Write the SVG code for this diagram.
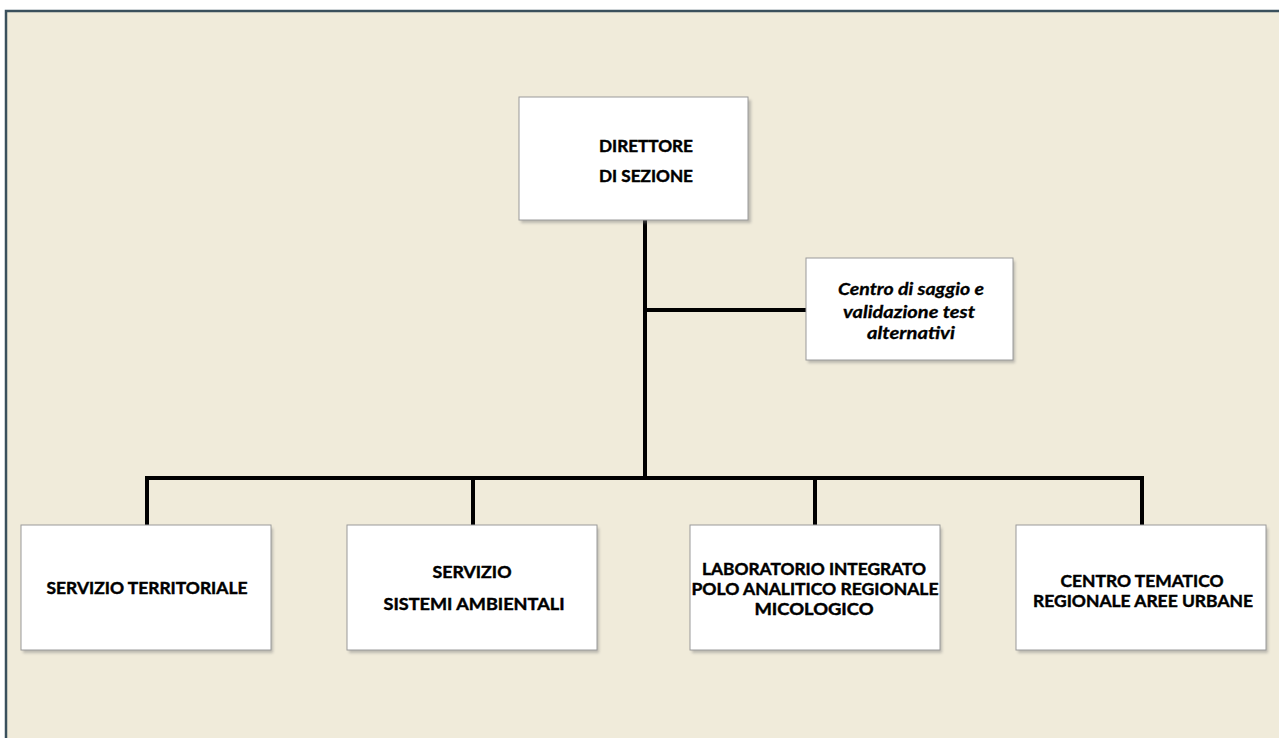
<svg xmlns="http://www.w3.org/2000/svg" width="1279" height="738" viewBox="0 0 1279 738">
<defs>
<style>
.box{fill:#ffffff;stroke:#9a9a9a;stroke-width:1}
.shadow{fill:#7a7a7a;opacity:0.45}
.conn{fill:none;stroke:#000000;stroke-width:4;stroke-linejoin:miter}
.t{font-family:Lato,"Open Sans","DejaVu Sans",sans-serif;font-weight:bold;font-size:17px;fill:#000000;stroke:#000000;stroke-width:0.45;text-anchor:middle}
.it{font-style:italic;stroke-width:0.3}
</style>
<filter id="blur" x="-10%" y="-10%" width="120%" height="130%"><feGaussianBlur stdDeviation="1.5"/></filter>
</defs>
<rect x="0" y="0" width="1279" height="738" fill="#ffffff"/>
<rect x="6" y="11" width="1290" height="740" fill="#f0ebda" stroke="#3a505c" stroke-width="2.5"/>

<g id="connectors">
<path class="conn" d="M645 220 V480"/>
<path class="conn" d="M645 310 H806"/>
<path class="conn" d="M147 525 V478 H1142 V525"/>
<path class="conn" d="M473 478 V525"/>
<path class="conn" d="M815 478 V525"/>
</g>

<g id="direttore">
<rect class="shadow" x="521" y="100" width="230" height="123" filter="url(#blur)"/>
<rect class="box" x="519" y="97" width="229" height="123"/>
<text class="t" x="646" y="152" textLength="94" lengthAdjust="spacingAndGlyphs">DIRETTORE</text>
<text class="t" x="646" y="182" textLength="94" lengthAdjust="spacingAndGlyphs">DI SEZIONE</text>
</g>

<g id="centro-saggio">
<rect class="shadow" x="808" y="261" width="207" height="102" filter="url(#blur)"/>
<rect class="box" x="806" y="258" width="207" height="102"/>
<text class="t it" x="911" y="295" textLength="146" lengthAdjust="spacingAndGlyphs">Centro di saggio e</text>
<text class="t it" x="909" y="318" textLength="132" lengthAdjust="spacingAndGlyphs">validazione test</text>
<text class="t it" x="911" y="339" textLength="88" lengthAdjust="spacingAndGlyphs">alternativi</text>
</g>

<g id="servizio-territoriale">
<rect class="shadow" x="23" y="528" width="250" height="125" filter="url(#blur)"/>
<rect class="box" x="21" y="525" width="250" height="125"/>
<text class="t" x="147" y="594" textLength="201" lengthAdjust="spacingAndGlyphs">SERVIZIO TERRITORIALE</text>
</g>

<g id="servizio-sistemi">
<rect class="shadow" x="349" y="528" width="250" height="125" filter="url(#blur)"/>
<rect class="box" x="347" y="525" width="250" height="125"/>
<text class="t" x="472" y="578" textLength="79" lengthAdjust="spacingAndGlyphs">SERVIZIO</text>
<text class="t" x="474" y="610" textLength="181" lengthAdjust="spacingAndGlyphs">SISTEMI AMBIENTALI</text>
</g>

<g id="laboratorio">
<rect class="shadow" x="692" y="528" width="250" height="125" filter="url(#blur)"/>
<rect class="box" x="690" y="525" width="250" height="125"/>
<text class="t" x="814" y="575" textLength="224" lengthAdjust="spacingAndGlyphs">LABORATORIO INTEGRATO</text>
<text class="t" x="815" y="595" textLength="247" lengthAdjust="spacingAndGlyphs">POLO ANALITICO REGIONALE</text>
<text class="t" x="814" y="615" textLength="119" lengthAdjust="spacingAndGlyphs">MICOLOGICO</text>
</g>

<g id="centro-tematico">
<rect class="shadow" x="1018" y="528" width="250" height="125" filter="url(#blur)"/>
<rect class="box" x="1016" y="525" width="250" height="125"/>
<text class="t" x="1142" y="587" textLength="163" lengthAdjust="spacingAndGlyphs">CENTRO TEMATICO</text>
<text class="t" x="1143" y="607" textLength="220" lengthAdjust="spacingAndGlyphs">REGIONALE AREE URBANE</text>
</g>
</svg>
